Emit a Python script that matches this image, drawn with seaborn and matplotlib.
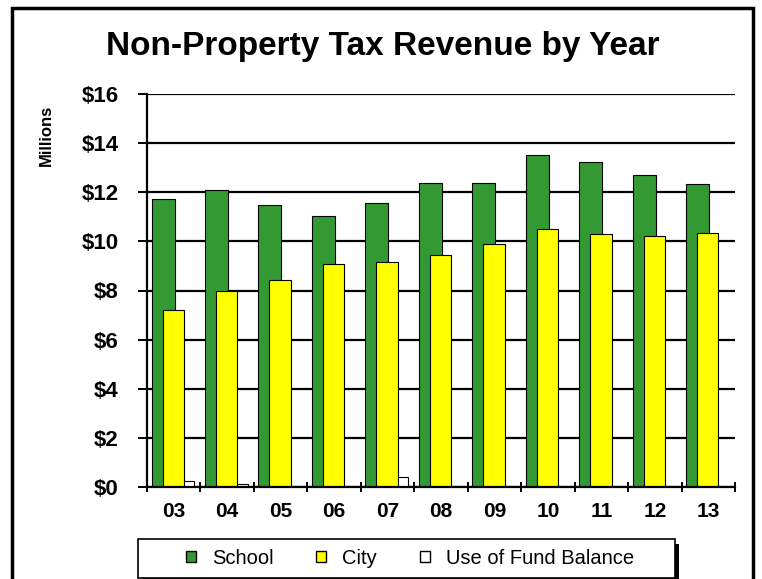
import matplotlib
matplotlib.use("Agg")
import matplotlib.pyplot as plt
import matplotlib.patches as mpatches
import numpy as np
import seaborn as sns

# values (millions of dollars)
years = ["03", "04", "05", "06", "07", "08", "09", "10", "11", "12", "13"]
school = [11.72, 12.10, 11.48, 11.03, 11.57, 12.38, 12.38, 13.53, 13.22, 12.69, 12.35]
city = [7.20, 7.96, 8.42, 9.09, 9.14, 9.43, 9.88, 10.50, 10.29, 10.20, 10.34]
fund_balance = [0.24, 0.11, 0.0, 0.0, 0.41, 0.0, 0.0, 0.0, 0.0, 0.0, 0.0]
y_ticks = [0, 2, 4, 6, 8, 10, 12, 14, 16]

sns.set_style("white")
plt.rcParams['font.family'] = ['Liberation Sans', 'DejaVu Sans']
plt.rcParams['text.color'] = 'black'
plt.rcParams['xtick.color'] = 'black'
plt.rcParams['ytick.color'] = 'black'

fig = plt.figure(figsize=(7.62, 5.79), dpi=100)
ax = fig.add_axes([147 / 762, 1 - 487 / 579, 588 / 762, 393 / 579])

pos = np.arange(len(years))
green = "#339933"
yellow = "#ffff00"

# excel style overlapping bars: green behind, white, yellow on top
sns.barplot(x=pos - 0.2, y=school, native_scale=True, width=0.43, color=green,
            edgecolor="black", linewidth=0.8, errorbar=None, ax=ax, saturation=1)
sns.barplot(x=pos + 0.19, y=fund_balance, native_scale=True, width=0.39, color="white",
            edgecolor="black", linewidth=0.8, errorbar=None, ax=ax, saturation=1)
sns.barplot(x=pos - 0.01, y=city, native_scale=True, width=0.4, color=yellow,
            edgecolor="black", linewidth=0.8, errorbar=None, ax=ax, saturation=1)

ax.set_xlim(-0.5, len(years) - 0.5)
ax.set_ylim(0, 16)
ax.set_axisbelow(True)
ax.yaxis.grid(True, color="black", linewidth=1.6)
ax.xaxis.grid(False)

ax.set_yticks(y_ticks)
ax.set_yticklabels(["$" + str(v) for v in y_ticks], fontsize=16, fontweight="bold")
ax.tick_params(axis="y", direction="out", length=6.5, width=1.4, color="black", pad=14, left=True)

# ticks on category boundaries, labels in the middle
ax.set_xticks(np.arange(-0.5, len(years), 1.0))
ax.set_xticklabels([])
ax.set_xticks(pos, minor=True)
ax.set_xticklabels(years, minor=True, fontsize=15, fontweight="bold")
ax.tick_params(axis="x", which="major", direction="inout", length=7, width=1.4, color="black", bottom=True)
ax.tick_params(axis="x", which="minor", length=0, pad=11)
ax.set_xlabel("")
ax.set_ylabel("")

for side in ["top", "right"]:
    ax.spines[side].set_visible(False)
for side in ["left", "bottom"]:
    ax.spines[side].set_color("black")
    ax.spines[side].set_linewidth(1.6)

fig.text(0.502, 1 - 46 / 579, "Non-Property Tax Revenue by Year", ha="center", va="center",
         fontsize=24, fontweight="bold")
fig.text(46 / 762, 1 - 135 / 579, "Millions", rotation=90, ha="center", va="center",
         fontsize=12, fontweight="bold")

# legend box with a solid black shadow, drawn by hand so it can be wider than its entries
W, H = 762, 579
fig.add_artist(mpatches.Rectangle((142 / W, 1 - 582 / H), 537 / W, 38 / H, transform=fig.transFigure,
                                  facecolor="black", edgecolor="none", zorder=3))
fig.add_artist(mpatches.Rectangle((138 / W, 1 - 578 / H), 537 / W, 39 / H, transform=fig.transFigure,
                                  facecolor="white", edgecolor="black", linewidth=1.2, zorder=4))

handles = [mpatches.Patch(facecolor=green, edgecolor="black", label="School"),
           mpatches.Patch(facecolor=yellow, edgecolor="black", label="City"),
           mpatches.Patch(facecolor="white", edgecolor="black", label="Use of Fund Balance")]
leg = fig.legend(handles=handles, loc="center", bbox_to_anchor=(410 / W, 1 - 558 / H), ncol=3,
                 fontsize=14.5, frameon=False, handlelength=0.5, handleheight=0.5,
                 handletextpad=0.8, columnspacing=2.1)
leg.set_zorder(5)

# outer border around the whole chart
fig.add_artist(mpatches.Rectangle((12 / W, -0.02), 741 / W, 1.02 - 8 / H, transform=fig.transFigure,
                                  fill=False, edgecolor="black", linewidth=2.5))

fig.savefig("out.png", dpi=100)
